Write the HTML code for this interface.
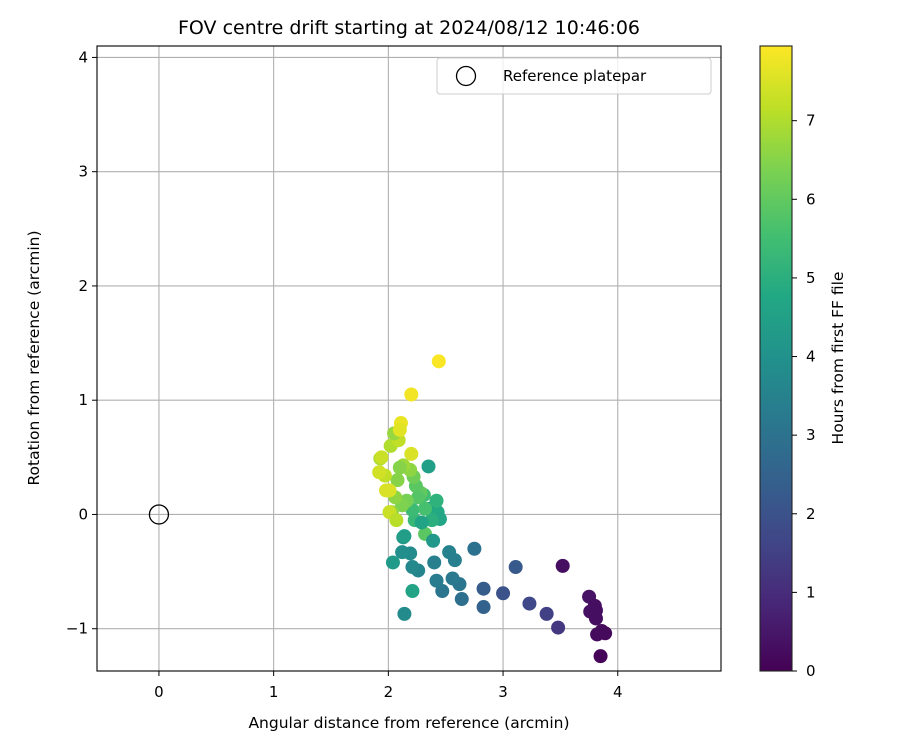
<!DOCTYPE html>
<html><head><meta charset="utf-8"><style>
body{margin:0;background:#fff}
svg text{font-family:"DejaVu Sans","Liberation Sans",sans-serif;fill:#000}
</style></head><body>
<svg id="c" width="900" height="750" xmlns="http://www.w3.org/2000/svg">
<defs><linearGradient id="vir" x1="0" y1="1" x2="0" y2="0">
<stop offset="0" stop-color="#440154"/><stop offset="0.1" stop-color="#482475"/><stop offset="0.2" stop-color="#414487"/><stop offset="0.3" stop-color="#355f8d"/><stop offset="0.4" stop-color="#2a788e"/><stop offset="0.5" stop-color="#21918c"/><stop offset="0.6" stop-color="#22a884"/><stop offset="0.7" stop-color="#44bf70"/><stop offset="0.8" stop-color="#7ad151"/><stop offset="0.9" stop-color="#bddf26"/><stop offset="1" stop-color="#fde725"/>
</linearGradient></defs>
<g id="grid"></g><g id="pts"></g><g id="ax"></g>
</svg>
<script>
const xTicks=[0,1,2,3,4];
const yTicks=[-1,0,1,2,3,4];
const cTicks=[0,1,2,3,4,5,6,7];
const xs=[3.52,3.75,3.80,3.76,3.81,3.82,3.86,3.89,3.85,3.81,3.48,3.38,3.23,3.11,3.00,2.83,2.83,2.75,2.64,2.62,2.56,2.47,2.42,2.40,2.53,2.58,2.26,2.21,2.19,2.12,2.04,2.21,2.14,2.13,2.32,2.39,
2.35,2.36,2.39,2.43,2.45,2.42,2.38,2.31,2.23,2.29,2.21,2.28,2.32,2.24,2.26,2.16,2.22,2.19,2.13,2.08,2.14,2.12,2.06,2.03,2.01,2.02,2.09,2.05,1.97,2.10,1.93,1.94,1.92,1.98,2.01,2.07,2.11,2.10,2.20,2.20,2.44];
const ys=[-0.45,-0.72,-0.80,-0.85,-0.91,-1.05,-1.02,-1.04,-1.24,-0.84,-0.99,-0.87,-0.78,-0.46,-0.69,-0.65,-0.81,-0.30,-0.74,-0.61,-0.56,-0.67,-0.58,-0.42,-0.33,-0.40,-0.49,-0.46,-0.34,-0.33,-0.42,-0.67,-0.87,-0.20,-0.17,-0.23,
0.42,0.05,-0.03,0.02,-0.04,0.12,-0.05,0.17,-0.05,-0.07,0.04,0.19,0.05,0.25,0.15,0.12,0.33,0.39,0.43,0.30,-0.19,0.08,0.15,0.02,0.21,0.60,0.65,0.71,0.34,0.41,0.49,0.50,0.37,0.21,0.02,-0.05,0.80,0.74,0.53,1.05,1.34];
const hs=[0.3,0.4,0.3,0.35,0.3,0.2,0.25,0.2,0.1,0.3,1.3,1.5,1.7,2.2,2.0,2.3,2.5,3.0,2.9,3.1,3.2,3.1,3.3,3.4,3.5,3.4,3.6,3.7,3.8,3.9,4.3,4.6,3.8,4.2,5.9,4.2,
4.5,4.3,4.9,4.8,4.7,5.1,5.0,5.5,5.3,4.6,5.4,6.0,5.6,5.9,5.8,6.3,6.2,6.6,6.8,6.5,4.4,6.4,6.6,6.6,7.5,7.0,7.2,6.7,7.2,6.5,6.9,7.3,7.4,7.5,7.3,7.1,7.7,7.6,7.5,7.8,7.9];
const X0=97,X1=721,Y0=46,Y1=671,xmin=-0.54,xmax=4.9,ymin=-1.37,ymax=4.1,hmax=7.95;
const sx=v=>X0+(v-xmin)/(xmax-xmin)*(X1-X0);
const sy=v=>Y1-(v-ymin)/(ymax-ymin)*(Y1-Y0);
const CB=[760,792],cy=v=>671-v/hmax*625;
const stops=["#440154","#482475","#414487","#355f8d","#2a788e","#21918c","#22a884","#44bf70","#7ad151","#bddf26","#fde725"];
function hex(h){return [1,3,5].map(i=>parseInt(h.substr(i,2),16));}
function vir(t){t=Math.max(0,Math.min(1,t))*10;const i=Math.min(9,Math.floor(t)),f=t-i;const a=hex(stops[i]),b=hex(stops[i+1]);return `rgb(${a.map((v,k)=>Math.round(v+(b[k]-v)*f)).join(',')})`;}
const NS="http://www.w3.org/2000/svg";
function mk(p,tag,at,txt){const e=document.createElementNS(NS,tag);for(const k in at)e.setAttribute(k,at[k]);if(txt!==undefined)e.textContent=txt;p.appendChild(e);return e;}
const G=document.getElementById('grid'),P=document.getElementById('pts'),A=document.getElementById('ax');
xTicks.forEach(t=>{const x=sx(t);
const g=mk(G,'line',{x1:x,x2:x,y1:Y0,y2:Y1,stroke:'#b0b0b0','stroke-width':1.1});


mk(A,'line',{x1:x,x2:x,y1:Y1,y2:Y1+5,stroke:'#000'});
const l=mk(A,'text',{x:x,y:Y1+26,'text-anchor':'middle','font-size':15},String(t));

});
yTicks.forEach(t=>{const y=sy(t);
const g=mk(G,'line',{x1:X0,x2:X1,y1:y,y2:y,stroke:'#b0b0b0','stroke-width':1.1});


mk(A,'line',{x1:X0-5,x2:X0,y1:y,y2:y,stroke:'#000'});
const l=mk(A,'text',{x:X0-9,y:y+5,'text-anchor':'end','font-size':15},t<0?'−'+(-t):String(t));

});
xs.forEach((v,i)=>{const c=mk(P,'circle',{cx:sx(v),cy:sy(ys[i]),r:7,fill:vir(hs[i]/hmax)});

});
const ref=mk(P,'circle',{cx:sx(0),cy:sy(0),r:9.5,fill:'none',stroke:'#000','stroke-width':1.3});


mk(A,'rect',{x:X0,y:Y0,width:X1-X0,height:Y1-Y0,fill:'none',stroke:'#000','stroke-width':1.1});
const cb=mk(A,'rect',{x:CB[0],y:46,width:32,height:625,fill:'url(#vir)',stroke:'#222','stroke-width':1.1});


cTicks.forEach(t=>{const y=cy(t);mk(A,'line',{x1:792,x2:797,y1:y,y2:y,stroke:'#000'});
const l=mk(A,'text',{x:806,y:y+5,'font-size':15},String(t));

});
</script>
<svg style="position:absolute;left:0;top:0" width="900" height="750" xmlns="http://www.w3.org/2000/svg">
<text x="409" y="34" text-anchor="middle" font-size="19">FOV centre drift starting at 2024/08/12 10:46:06</text>
<text x="409" y="728" text-anchor="middle" font-size="15.5">Angular distance from reference (arcmin)</text>
<text transform="translate(39,358) rotate(-90)" text-anchor="middle" font-size="15.5">Rotation from reference (arcmin)</text>
<text transform="translate(843,358) rotate(-90)" text-anchor="middle" font-size="15.5">Hours from first FF file</text>
<g>
<rect x="437" y="58" width="274" height="36" rx="3" fill="#fff" fill-opacity="0.8" stroke="#ccc"/>
<circle cx="466" cy="76" r="9.5" fill="none" stroke="#000" stroke-width="1.3"/>
<text x="503" y="81" font-size="15">Reference platepar</text>
</g>
</svg>
</body></html>
